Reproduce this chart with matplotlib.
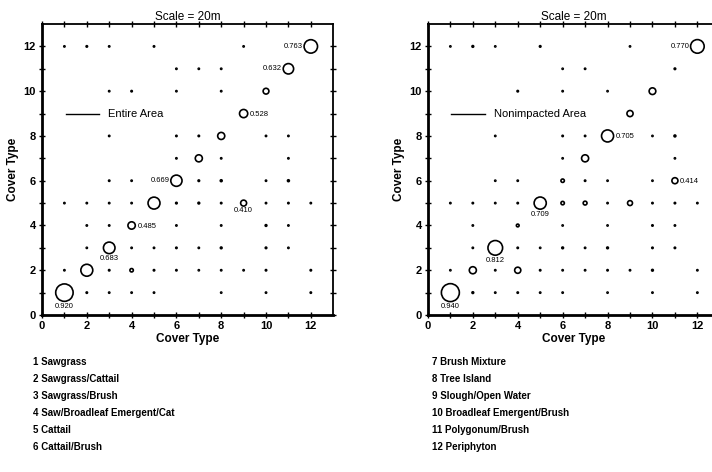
import numpy as np
import matplotlib.pyplot as plt

plt.rcParams['font.family'] = ['Liberation Sans', 'DejaVu Sans']

ticks = [0, 2, 4, 6, 8, 10, 12]

# Entire Area: (row, column, proportion), row by row from the top
ent_x = [1, 2, 3, 5, 9, 12,
         6, 7, 8, 11,
         3, 4, 6, 8, 10,
         9,
         3, 6, 7, 8, 10, 11,
         6, 7, 8, 11,
         3, 4, 6, 7, 8, 10, 11,
         1, 2, 3, 4, 5, 6, 7, 8, 9, 10, 11, 12,
         2, 3, 4, 6, 8, 10, 11,
         2, 3, 4, 5, 6, 7, 8, 10, 11,
         1, 2, 3, 4, 5, 6, 7, 8, 9, 10, 12,
         1, 2, 3, 4, 5, 8, 10, 12]
ent_y = [12] * 6 + [11] * 4 + [10] * 5 + [9] + [8] * 6 + [7] * 4 + [6] * 7 + \
        [5] * 12 + [4] * 7 + [3] * 9 + [2] * 11 + [1] * 8
ent_p = [.04, .07, .04, .05, .04, .763,
         .04, .04, .04, .632,
         .04, .06, .04, .04, .40,
         .528,
         .04, .05, .06, .47, .04, .04,
         .04, .47, .04, .04,
         .05, .04, .669, .08, .12, .04, .12,
         .04, .04, .04, .04, .70, .08, .10, .05, .410, .04, .05, .04,
         .04, .04, .485, .04, .04, .10, .04,
         .03, .683, .04, .04, .06, .04, .10, .08, .04,
         .04, .70, .06, .25, .06, .05, .03, .04, .04, .06, .06,
         .920, .06, .04, .04, .04, .03, .04, .05]

# Nonimpacted Area
non_x = [1, 2, 3, 5, 9, 12,
         6, 7, 11,
         4, 6, 8, 10,
         9,
         3, 6, 7, 8, 10, 11,
         6, 7, 11,
         3, 4, 6, 7, 8, 10, 11,
         1, 2, 3, 4, 5, 6, 7, 8, 9, 10, 11, 12,
         2, 4, 6, 8, 10, 11,
         2, 3, 4, 5, 6, 7, 8, 10, 11,
         1, 2, 3, 4, 5, 6, 7, 8, 9, 10, 12,
         1, 2, 3, 4, 5, 6, 8, 10, 12]
non_y = [12] * 6 + [11] * 3 + [10] * 4 + [9] + [8] * 6 + [7] * 3 + [6] * 7 + \
        [5] * 12 + [4] * 6 + [3] * 9 + [2] * 11 + [1] * 9
non_p = [.03, .10, .03, .08, .03, .770,
         .03, .04, .08,
         .07, .04, .03, .45,
         .42,
         .03, .05, .04, .705, .03, .12,
         .03, .47, .03,
         .03, .04, .25, .05, .03, .03, .414,
         .04, .05, .04, .05, .709, .25, .28, .04, .35, .05, .06, .04,
         .04, .20, .03, .03, .06, .04,
         .04, .812, .05, .03, .10, .04, .10, .06, .06,
         .03, .47, .04, .42, .05, .04, .04, .05, .04, .10, .04,
         .940, .10, .04, .05, .04, .04, .03, .04, .04]

# printed values next to the diagonal circles
ent_lab = [(12, 'left'), (11, 'left'), (9, 'right'), (6, 'left'),
           (4, 'right'), (3, 'below'), (1, 'below')]
ent_lab_txt = ['0.763', '0.632', '0.528', '0.669', '0.485', '0.683', '0.920']
ent_off = [(9, 5, '0.410')]
non_lab = [(12, 'left'), (8, 'right'), (5, 'below'), (3, 'below'), (1, 'below')]
non_lab_txt = ['0.770', '0.705', '0.709', '0.812', '0.940']
non_off = [(11, 6, '0.414')]

names_left = ['1 Sawgrass', '2 Sawgrass/Cattail', '3 Sawgrass/Brush',
              '4 Saw/Broadleaf Emergent/Cat', '5 Cattail', '6 Cattail/Brush']
names_right = ['7 Brush Mixture', '8 Tree Island', '9 Slough/Open Water',
               '10 Broadleaf Emergent/Brush', '11 Polygonum/Brush', '12 Periphyton']


def diam(p):
    # marker diameter in points
    return (1.1 + 18.5 * p ** 1.5) * 0.72


def put_label(ax, x, y, p, side, txt):
    r = diam(p) / 2
    if side == 'left':
        ax.annotate(txt, (x, y), xytext=(-r - 1, 0), textcoords='offset points',
                    ha='right', va='center', fontsize=5.5)
    elif side == 'right':
        ax.annotate(txt, (x, y), xytext=(r + 1.5, -0.5), textcoords='offset points',
                    ha='left', va='center', fontsize=5.5)
    else:
        ax.annotate(txt, (x, y), xytext=(0, -r - 1), textcoords='offset points',
                    ha='center', va='top', fontsize=5.5)


def panel(ax, xs, ys, ps, labs, lab_txt, offs, legend_txt):
    s = [diam(p) ** 2 for p in ps]
    ax.scatter(xs, ys, s=s, facecolor='white', edgecolor='black', linewidth=1.2,
               zorder=3, clip_on=False)
    for (k, side), txt in zip(labs, lab_txt):
        i = [j for j in range(len(xs)) if xs[j] == k and ys[j] == k][0]
        put_label(ax, k, k, ps[i], side, txt)
    for x, y, txt in offs:
        i = [j for j in range(len(xs)) if xs[j] == x and ys[j] == y][0]
        put_label(ax, x, y, ps[i], 'below' if y == 5 else 'right', txt)

    ax.plot([1.05, 2.55], [9, 9], color='black', lw=1.0)
    ax.text(2.95, 9, legend_txt, fontsize=8, va='center')

    ax.set_xlim(0, 13)
    ax.set_ylim(0, 13)
    ax.set_xticks(ticks)
    ax.set_yticks(ticks)
    ax.set_xticks(range(1, 13, 2), minor=True)
    ax.set_yticks(range(1, 13, 2), minor=True)
    ax.tick_params(which='both', direction='inout', length=5, width=1,
                   top=True, right=True, labelsize=8, pad=2)
    for t in ax.get_xticklabels() + ax.get_yticklabels():
        t.set_fontweight('bold')
    for sp in ax.spines.values():
        sp.set_linewidth(1.3)
    ax.spines['left'].set_linewidth(2)
    ax.spines['bottom'].set_linewidth(2)
    ax.set_xlabel('Cover Type', fontsize=8.5, fontweight='bold', labelpad=1)
    ax.set_ylabel('Cover Type', fontsize=8.5, fontweight='bold', labelpad=3)
    ax.set_title('Scale = 20m', fontsize=8.5, pad=3)


fig = plt.figure(figsize=(7.12, 4.72), dpi=100)
ax1 = fig.add_axes([0.059, 0.3326, 0.409, 0.6165])
ax2 = fig.add_axes([0.601, 0.3326, 0.410, 0.6165])

panel(ax1, ent_x, ent_y, ent_p, ent_lab, ent_lab_txt, ent_off, 'Entire Area')
panel(ax2, non_x, non_y, non_p, non_lab, non_lab_txt, non_off, 'Nonimpacted Area')

for i, name in enumerate(names_left):
    fig.text(33 / 712, 1 - (362 + 17.1 * i) / 472, name, fontsize=7,
             fontweight='bold', va='center')
for i, name in enumerate(names_right):
    fig.text(432 / 712, 1 - (362 + 17.1 * i) / 472, name, fontsize=7,
             fontweight='bold', va='center')

fig.savefig('out.png', dpi=100)
